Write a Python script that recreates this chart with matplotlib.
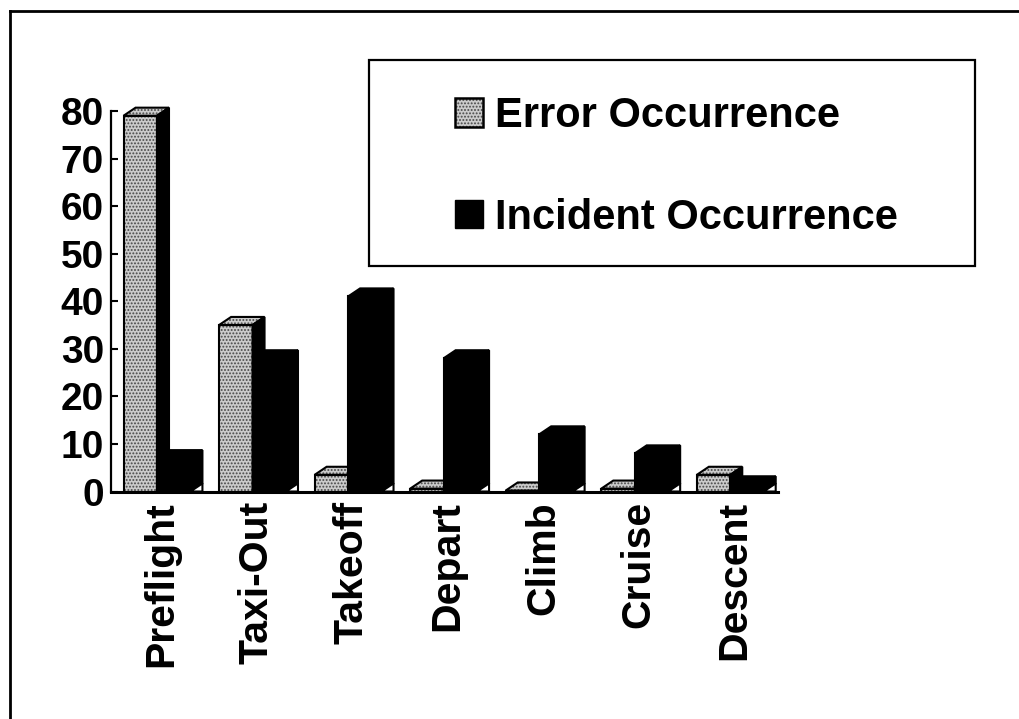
import numpy as np
import matplotlib
matplotlib.use("Agg")
import matplotlib.pyplot as plt
from matplotlib.patches import Polygon, Rectangle, Patch
from matplotlib.lines import Line2D
from matplotlib.legend_handler import HandlerTuple

plt.rcParams['font.family'] = ['Liberation Sans', 'DejaVu Sans']
plt.rcParams['font.weight'] = 'bold'
plt.rcParams['hatch.linewidth'] = 0.9

# data
phases = ['Preflight', 'Taxi-Out', 'Takeoff', 'Depart', 'Climb', 'Cruise', 'Descent']
error_occ = [79, 35, 3.5, 0.6, 0.2, 0.6, 3.5]
incident_occ = [7, 28, 41, 28, 12, 8, 1.5]
yticks = [0, 10, 20, 30, 40, 50, 60, 70, 80]
legend_labels = ['Error Occurrence', 'Incident Occurrence']

# pseudo-3D settings
w = 0.35       # front face width
dx = 0.126     # depth offset in x (data units)
dy = 1.7       # depth offset in y (data units)
stip_face = '#cbcbcb'
stip_dots = '#474747'

W, H = 1020, 719
fig = plt.figure(figsize=(W / 100, H / 100), dpi=100)
ax = fig.add_axes([111 / W, (H - 491.5) / H, (778 - 111) / W, (491.5 - 111) / H])

x = np.arange(len(phases))


def stipple(verts, z):
    ax.add_patch(Polygon(verts, closed=True, facecolor=stip_face, edgecolor=stip_dots,
                         hatch='.....', lw=0, zorder=z, clip_on=False))
    ax.add_patch(Polygon(verts, closed=True, fill=False, edgecolor='black',
                         lw=1.5, zorder=z + 0.05, clip_on=False))


def solid(verts, z, fc='black'):
    ax.add_patch(Polygon(verts, closed=True, facecolor=fc, edgecolor='black',
                         lw=1.5, zorder=z, clip_on=False))


# error bars (behind)
for xi, v in zip(x, error_occ):
    x0, x1 = xi - w, xi
    stipple([(x0, 0), (x1, 0), (x1, v), (x0, v)], 2)
    stipple([(x0, v), (x1, v), (x1 + dx, v + dy), (x0 + dx, v + dy)], 2)
    solid([(x1, 0), (x1 + dx, dy), (x1 + dx, v + dy), (x1, v)], 2.2)

# incident bars (front)
for xi, v in zip(x, incident_occ):
    x0, x1 = xi, xi + w
    solid([(x0, 0), (x1, 0), (x1, v), (x0, v)], 3)
    solid([(x0, v), (x1, v), (x1 + dx, v + dy), (x0 + dx, v + dy)], 3)
    solid([(x1, 0), (x1 + dx, dy), (x1 + dx, v + dy), (x1, v)], 3)
    # floor corner
    solid([(x1, 0), (x1 + dx, dy), (x1 + dx, 0)], 3.5, fc='white')

ax.set_xlim(-0.481, 6.50)
ax.set_ylim(0, 80)
ax.set_yticks(yticks)
ax.set_xticks(x + 0.04)
ax.set_xticklabels(phases, rotation=90, fontsize=29.5, fontweight='bold', va='top', ha='center')
ax.tick_params(axis='x', length=0, pad=7)
ax.tick_params(axis='y', direction='in', length=5, width=1.5, pad=5, labelsize=28)
for lab in ax.get_yticklabels():
    lab.set_fontweight('bold')
for s in ['top', 'right']:
    ax.spines[s].set_visible(False)
ax.spines['left'].set_linewidth(1.6)
ax.spines['bottom'].set_linewidth(2.2)
ax.patch.set_alpha(0)

# legend box
fig.add_artist(Rectangle((369 / W, 1 - 266 / H), (975 - 369) / W, (266 - 60) / H,
                         transform=fig.transFigure, fill=False, lw=1.6, color='black'))
h_err = (Patch(facecolor=stip_face, edgecolor=stip_dots, hatch='.....', lw=0),
         Patch(fill=False, edgecolor='black', lw=1.8))
h_inc = Patch(facecolor='black', edgecolor='black')
fig.legend([h_err, h_inc], legend_labels, handler_map={tuple: HandlerTuple(ndivide=1, pad=0)},
           loc='center left', bbox_to_anchor=(455 / W, 1 - 167 / H), frameon=False,
           prop={'family': 'Liberation Sans', 'weight': 'bold', 'size': 30},
           handlelength=0.67, handleheight=0.67, handletextpad=0.3,
           labelspacing=1.48, borderpad=0, borderaxespad=0)

# page frame
fig.add_artist(Line2D([10 / W, 1], [1 - 11 / H, 1 - 11 / H], transform=fig.transFigure,
                      color='black', lw=2))
fig.add_artist(Line2D([10 / W, 10 / W], [0, 1 - 11 / H], transform=fig.transFigure,
                      color='black', lw=2))

fig.savefig('out.png', dpi=100)
